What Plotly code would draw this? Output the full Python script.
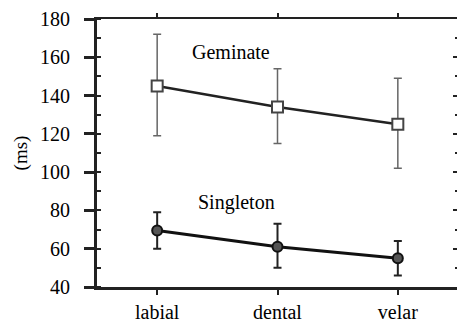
import plotly.graph_objects as go

categories = ["labial", "dental", "velar"]
geminate = [145, 134, 125]
geminate_up = [27, 20, 24]
geminate_down = [26, 19, 23]
singleton = [69.5, 61, 55]
singleton_up = [9.5, 12, 9]
singleton_down = [9.5, 11, 9]
y_ticks = [40, 60, 80, 100, 120, 140, 160, 180]

font = "Liberation Serif"
fig = go.Figure()
fig.add_trace(go.Scatter(
    x=categories, y=geminate, mode="lines+markers",
    line=dict(color="#222", width=2.5),
    marker=dict(symbol="square", size=11, color="white", line=dict(color="#444", width=2)),
    error_y=dict(type="data", array=geminate_up, arrayminus=geminate_down,
                 color="#666", thickness=1.5, width=4),
    showlegend=False))
fig.add_trace(go.Scatter(
    x=categories, y=singleton, mode="lines+markers",
    line=dict(color="#111", width=3),
    marker=dict(symbol="circle", size=10, color="#555", line=dict(color="#111", width=2)),
    error_y=dict(type="data", array=singleton_up, arrayminus=singleton_down,
                 color="#222", thickness=2, width=4),
    showlegend=False))
fig.add_trace(go.Scatter(x=categories, y=[None]*3, yaxis="y2", xaxis="x2",
                         showlegend=False, hoverinfo="skip"))

fig.add_annotation(x=0.61, y=163, text="Geminate", showarrow=False,
                   font=dict(family=font, size=20, color="black"))
fig.add_annotation(x=0.66, y=84, text="Singleton", showarrow=False,
                   font=dict(family=font, size=20, color="black"))

fig.update_layout(
    width=457, height=315,
    margin=dict(l=89, r=7, t=11, b=36),
    paper_bgcolor="white", plot_bgcolor="white",
    font=dict(family=font, size=20, color="black"),
    xaxis=dict(range=[-0.5, 2.5], showgrid=False, zeroline=False, automargin=False,
               showline=True, linecolor="#222", linewidth=3,
               ticks="outside", ticklen=5, tickwidth=2, tickcolor="#222",
               tickfont=dict(size=20)),
    xaxis2=dict(range=[-0.5, 2.5], overlaying="x", side="top", showgrid=False,
                zeroline=False, showline=True, linecolor="#222", linewidth=2,
                ticks="outside", ticklen=4, tickwidth=2, tickcolor="#222",
                showticklabels=False, matches="x", automargin=False),
    yaxis=dict(range=[40, 180], tickvals=y_ticks, showgrid=False, zeroline=False,
               showline=True, linecolor="#222", linewidth=3, automargin=False,
               ticks="outside", ticklen=10, tickwidth=3, tickcolor="#222",
               ticklabelstandoff=10,
               minor=dict(dtick=10, ticks="inside", ticklen=4, tickwidth=2, tickcolor="#222"),
               title=dict(text="(ms)", font=dict(size=19), standoff=8),
               tickfont=dict(size=20)),
    yaxis2=dict(range=[40, 180], overlaying="y", side="right", tickvals=y_ticks,
                showgrid=False, zeroline=False, showline=True, linecolor="#222", linewidth=2,
                ticks="inside", ticklen=5, tickwidth=2, tickcolor="#222", automargin=False,
                minor=dict(dtick=10, ticks="inside", ticklen=3, tickwidth=1.5, tickcolor="#222"),
                showticklabels=False),
)
fig.write_html("out.html")
